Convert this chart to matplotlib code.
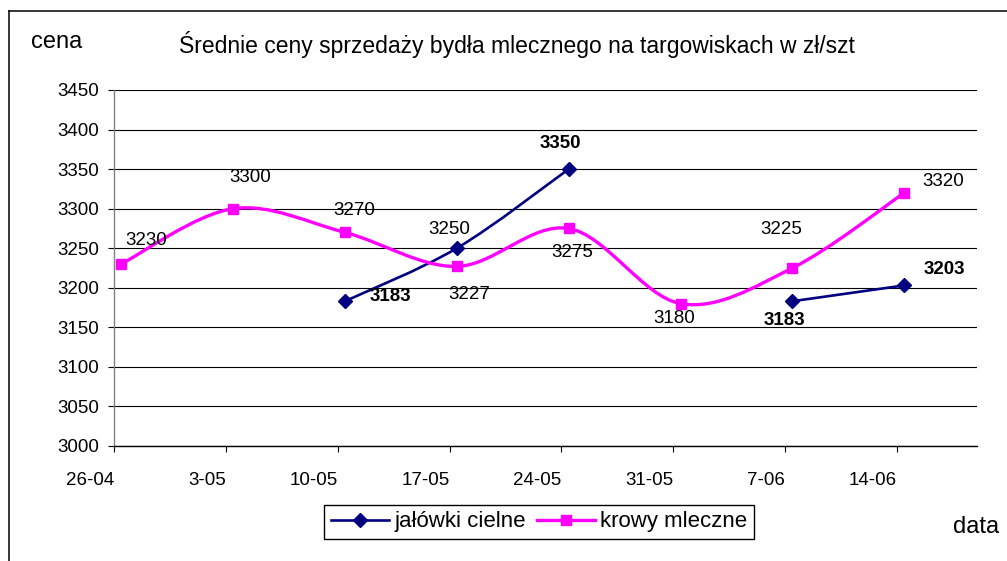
import numpy as np
import matplotlib
matplotlib.use("Agg")
import matplotlib.pyplot as plt
from matplotlib.path import Path
from matplotlib.patches import PathPatch
from matplotlib.lines import Line2D

plt.rcParams['font.family'] = ['Liberation Sans', 'DejaVu Sans']

# dane
daty = ['26-04', '3-05', '10-05', '17-05', '24-05', '31-05', '7-06', '14-06']
krowy = [3230, 3300, 3270, 3227, 3275, 3180, 3225, 3320]
jalowki = [np.nan, np.nan, 3183, 3250, 3350, np.nan, 3183, 3203]
jalowki_bold = [True, False, True, True, True]

# przesuniecia etykiet (px)
krowy_off = [(25, -24), (17, -31), (9, -22), (12, 28), (4, 24), (-6, 15), (-11, -39), (39, -11)]
jalowki_off = [(46, -5), (-8, -19), (-8, -26), (-8, 19), (40, -16)]

granat = '#000080'
roz = '#FF00FF'

def smooth_path(xs, ys):
    # krzywa Beziera jak w Excelu (Catmull-Rom)
    pts = np.column_stack([xs, ys])
    verts = [pts[0]]
    codes = [Path.MOVETO]
    n = len(pts)
    for i in range(n - 1):
        p0 = pts[i - 1] if i > 0 else pts[i]
        p1 = pts[i]
        p2 = pts[i + 1]
        p3 = pts[i + 2] if i + 2 < n else pts[i + 1]
        verts += [p1 + (p2 - p0) / 6, p2 - (p3 - p1) / 6, p2]
        codes += [Path.CURVE4] * 3
    return Path(verts, codes)

def runs(xs, ys):
    out = []
    cur = []
    for x, y in zip(xs, ys):
        if np.isnan(y):
            if cur:
                out.append(cur)
            cur = []
        else:
            cur.append((x, y))
    if cur:
        out.append(cur)
    return out

fig = plt.figure(figsize=(10.07, 5.61), dpi=100)
ax = fig.add_axes([114/1007, 1-446/561, (977-114)/1007, (446-90)/561])

x_dni = np.arange(len(daty)) * 7 + 0.45

for seria, kolor, lw in [(jalowki, granat, 1.9), (krowy, roz, 2.4)]:
    for r in runs(x_dni, seria):
        xs = np.array([p[0] for p in r])
        ys = np.array([p[1] for p in r])
        if len(r) > 1:
            ax.add_patch(PathPatch(smooth_path(xs, ys), fill=False, edgecolor=kolor,
                                   lw=lw, zorder=3, capstyle='round', joinstyle='round'))

ax.plot(x_dni, jalowki, linestyle='none', marker='D', ms=7, color=granat, zorder=4)
ax.plot(x_dni, krowy, linestyle='none', marker='s', ms=7.5, color=roz, zorder=4)

fs = 13.5
for x, y, (dx, dy) in zip(x_dni, krowy, krowy_off):
    ax.annotate(str(y), (x, y), xytext=(dx*0.72, -dy*0.72), textcoords='offset points',
                ha='center', va='center', fontsize=fs)
k = 0
for x, y in zip(x_dni, jalowki):
    if np.isnan(y):
        continue
    dx, dy = jalowki_off[k]
    ax.annotate(str(int(y)), (x, y), xytext=(dx*0.72, -dy*0.72), textcoords='offset points',
                ha='center', va='center', fontsize=fs,
                fontweight='bold' if jalowki_bold[k] else 'normal')
    k += 1

ax.set_xlim(0, 54)
ax.set_ylim(3000, 3450)
ax.set_yticks(np.arange(3000, 3451, 50))
ax.set_xticks(np.arange(len(daty)) * 7)
ax.set_xticklabels(daty, ha='right')
ax.grid(axis='y', color='black', lw=0.8)
ax.set_axisbelow(True)
for s in ['top', 'right']:
    ax.spines[s].set_visible(False)
ax.spines['left'].set_color('#808080')
ax.spines['left'].set_linewidth(1.0)
ax.spines['bottom'].set_linewidth(1.0)
ax.tick_params(axis='y', length=4, pad=7, labelsize=fs)
ax.tick_params(axis='x', length=4, pad=15, labelsize=fs)

fig.text(517/1007, 1-45/561, 'Średnie ceny sprzedaży bydła mlecznego na targowiskach w zł/szt',
         ha='center', va='center', fontsize=16.5)
fig.text(57/1007, 1-42/561, 'cena', ha='center', va='center', fontsize=17)
fig.text(976/1007, 1-527/561, 'data', ha='center', va='center', fontsize=17)

# ramka wykresu
fig.add_artist(Line2D([8.5/1007, 8.5/1007], [0, 1-10.5/561], color='black', lw=1.1))
fig.add_artist(Line2D([8.5/1007, 1], [1-10.5/561, 1-10.5/561], color='black', lw=1.1))

h1 = Line2D([], [], color=granat, lw=1.9, marker='D', ms=7)
h2 = Line2D([], [], color=roz, lw=2.4, marker='s', ms=7.5)
leg = fig.legend([h1, h2], ['jałówki cielne', 'krowy mleczne'], loc='center',
                 bbox_to_anchor=(539/1007, 1-522/561), ncol=2, fontsize=16,
                 handlelength=2.6, handletextpad=0.25, columnspacing=0.5,
                 borderpad=0.3, fancybox=False, framealpha=1, edgecolor='black')
leg.get_frame().set_linewidth(1.0)

fig.savefig('out.png', dpi=100)
